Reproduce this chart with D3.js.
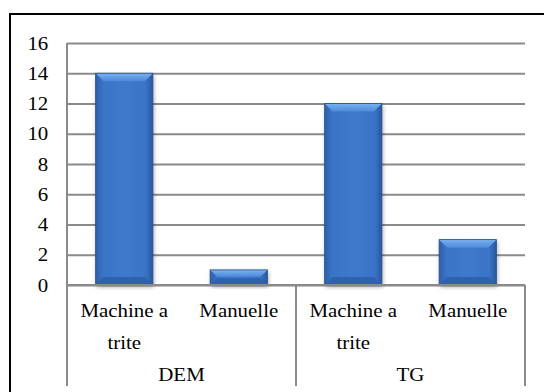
<!DOCTYPE html>
<html>
<head>
<meta charset="utf-8">
<script src="https://cdn.jsdelivr.net/npm/d3@7"></script>
<style>
  body { margin: 0; background: #fff; }
  svg text { font-family: 'Liberation Serif', 'DejaVu Serif', serif !important; }
</style>
</head>
<body>
<div id="chart"></div>
<script>
/* chart data */
var groups = ["DEM", "TG"];
var methods = [["Machine a", "trite"], ["Manuelle"]];
var demValues = [14, 1];
var tgValues = [12, 3];
var yTicks = [0, 2, 4, 6, 8, 10, 12, 14, 16];

/* flat list of bars built from the arrays above */
var bars = [];
[demValues, tgValues].forEach(function (vals, g) {
    vals.forEach(function (v, m) {
        bars.push({ group: groups[g], method: methods[m], value: v });
    });
});

var width = 544, height = 392;
var plot = { left: 67, right: 525, top: 43, bottom: 285 };
var fontSize = 19, stretch = 1.1;

var svg = d3.select("#chart").append("svg")
    .attr("width", width)
    .attr("height", height);

/* gradients for the bevelled bars */
var defs = svg.append("defs");
var bodyGrad = defs.append("linearGradient").attr("id", "barBody")
    .attr("x1", 0).attr("x2", 1).attr("y1", 0).attr("y2", 0);
bodyGrad.append("stop").attr("offset", "0%").attr("stop-color", "#2d5ea8");
bodyGrad.append("stop").attr("offset", "12%").attr("stop-color", "#3a73c6");
bodyGrad.append("stop").attr("offset", "50%").attr("stop-color", "#3d7acd");
bodyGrad.append("stop").attr("offset", "88%").attr("stop-color", "#3a73c6");
bodyGrad.append("stop").attr("offset", "100%").attr("stop-color", "#2a579c");

var topGrad = defs.append("linearGradient").attr("id", "barTop")
    .attr("x1", 0).attr("x2", 0).attr("y1", 0).attr("y2", 1);
topGrad.append("stop").attr("offset", "0%").attr("stop-color", "#7ab2f0");
topGrad.append("stop").attr("offset", "100%").attr("stop-color", "#4c8ad9");

var shadow = defs.append("filter").attr("id", "shadow")
    .attr("x", "-20%").attr("y", "-20%").attr("width", "140%").attr("height", "140%");
shadow.append("feDropShadow").attr("dx", 1).attr("dy", 2)
    .attr("stdDeviation", 2).attr("flood-color", "#000").attr("flood-opacity", 0.35);

/* outer frame */
svg.append("rect")
    .attr("x", 10).attr("y", 14)
    .attr("width", 700).attr("height", 500)
    .attr("fill", "none").attr("stroke", "#000").attr("stroke-width", 2);

/* scales */
var x0 = d3.scaleBand().domain(groups).range([plot.left, plot.right]);
var x1 = d3.scaleBand().domain([0, 1]).range([0, x0.bandwidth()]);
var y = d3.scaleLinear().domain([0, 16]).range([plot.bottom, plot.top]);

/* gridlines */
svg.append("g")
    .attr("class", "grid")
    .attr("transform", "translate(" + plot.left + ",0)")
    .call(d3.axisLeft(y).tickValues(yTicks).tickSize(-(plot.right - plot.left)).tickFormat(""))
    .call(function (g) { g.select(".domain").remove(); })
    .selectAll("line")
    .attr("stroke", "#8a8a8a").attr("stroke-width", 2);

/* y axis labels */
var yAxisG = svg.append("g")
    .attr("transform", "translate(" + plot.left + ",0)")
    .call(d3.axisLeft(y).tickValues(yTicks).tickSize(0).tickPadding(17))
    .attr("font-size", fontSize);
yAxisG.select(".domain").remove();
yAxisG.selectAll("text")
    .attr("fill", "#000")
    .attr("transform", "scale(" + stretch + ",1)");

/* vertical axis line and category separators */
var seps = [plot.left].concat(groups.map(function (g) { return x0(g) + x0.bandwidth(); }));
svg.selectAll(".sep")
    .data(seps)
    .enter().append("line")
    .attr("x1", function (d) { return d; })
    .attr("x2", function (d) { return d; })
    .attr("y1", function (d, i) { return i == 0 ? plot.top : plot.bottom; })
    .attr("y2", 386)
    .attr("stroke", "#8a8a8a").attr("stroke-width", 2);

/* bars */
var bevel = 8;
var barW = x1.bandwidth() * 0.5;
var barG = svg.selectAll(".bar")
    .data(bars)
    .enter().append("g")
    .attr("class", "bar")
    .attr("transform", function (d, i) {
        var cx = x0(d.group) + x1(i % 2) + x1.bandwidth() / 2;
        return "translate(" + (cx - barW / 2) + "," + y(d.value) + ")";
    });

barG.append("rect")
    .attr("width", barW)
    .attr("height", function (d) { return y(0) - y(d.value); })
    .attr("fill", "url(#barBody)")
    .attr("filter", "url(#shadow)");

/* top bevel */
barG.append("path")
    .attr("d", function (d) {
        var h = y(0) - y(d.value);
        var b = Math.min(bevel, h / 2.2);
        return "M0,0 L" + barW + ",0 L" + (barW - b) + "," + b + " L" + b + "," + b + " Z";
    })
    .attr("fill", "url(#barTop)");

/* bottom bevel */
barG.append("path")
    .attr("d", function (d) {
        var h = y(0) - y(d.value);
        var b = Math.min(bevel, h / 2.2);
        return "M0," + h + " L" + barW + "," + h + " L" + (barW - b) + "," + (h - b) + " L" + b + "," + (h - b) + " Z";
    })
    .attr("fill", "#2f62ad");

/* bar outline */
barG.append("rect")
    .attr("width", barW)
    .attr("height", function (d) { return y(0) - y(d.value); })
    .attr("fill", "none")
    .attr("stroke", "#25508f").attr("stroke-width", 0.8);

/* x axis baseline */
svg.append("line")
    .attr("x1", plot.left).attr("x2", plot.right)
    .attr("y1", plot.bottom).attr("y2", plot.bottom)
    .attr("stroke", "#8a8a8a").attr("stroke-width", 2);

/* method labels, two-level category axis */
var labels = svg.selectAll(".mlabel")
    .data(bars)
    .enter().append("g")
    .attr("class", "mlabel")
    .attr("transform", function (d, i) {
        var cx = x0(d.group) + x1(i % 2) + x1.bandwidth() / 2;
        return "translate(" + cx + ",317) scale(" + stretch + ",1)";
    })
    .append("text")
    .attr("text-anchor", "middle")
    .attr("font-size", fontSize)
    .attr("fill", "#000");

labels.selectAll("tspan")
    .data(function (d) { return d.method; })
    .enter().append("tspan")
    .attr("x", 0)
    .attr("dy", function (d, i) { return i == 0 ? 0 : 32; })
    .text(function (d) { return d; });

/* group labels */
svg.selectAll(".glabel")
    .data(groups)
    .enter().append("g")
    .attr("class", "glabel")
    .attr("transform", function (d) {
        return "translate(" + (x0(d) + x0.bandwidth() / 2) + ",381) scale(" + stretch + ",1)";
    })
    .append("text")
    .attr("text-anchor", "middle")
    .attr("font-size", fontSize)
    .attr("fill", "#000")
    .text(function (d) { return d; });
</script>
</body>
</html>
